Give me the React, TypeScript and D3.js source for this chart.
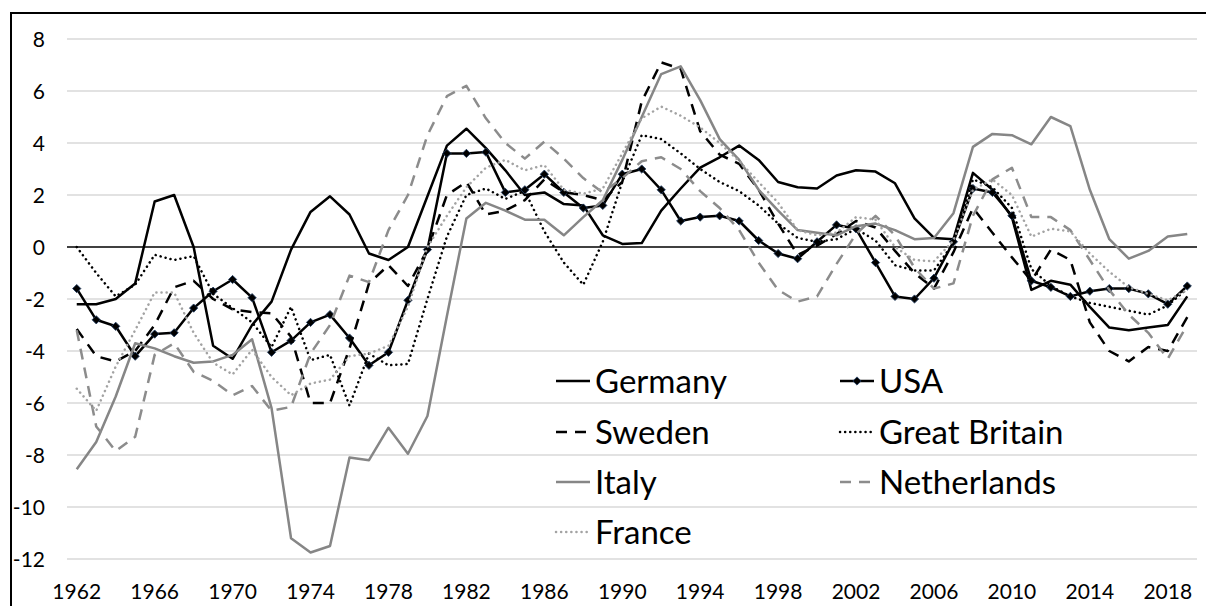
import React, { useEffect, useRef } from 'react'
import * as d3 from 'd3'

const years = [
  1962, 1963, 1964, 1965, 1966, 1967, 1968, 1969, 1970, 1971, 1972, 1973, 1974, 1975, 1976, 1977, 1978, 1979, 1980,
  1981, 1982, 1983, 1984, 1985, 1986, 1987, 1988, 1989, 1990, 1991, 1992, 1993, 1994, 1995, 1996, 1997, 1998, 1999,
  2000, 2001, 2002, 2003, 2004, 2005, 2006, 2007, 2008, 2009, 2010, 2011, 2012, 2013, 2014, 2015, 2016, 2017, 2018,
  2019,
]
const xTickLabels = [1962, 1966, 1970, 1974, 1978, 1982, 1986, 1990, 1994, 1998, 2002, 2006, 2010, 2014, 2018]
const yTicks = [-12, -10, -8, -6, -4, -2, 0, 2, 4, 6, 8]

const germany = [
  -2.2, -2.2, -2.0, -1.4, 1.75, 2.0, 0.0, -3.8, -4.3, -3.0, -2.1, -0.1, 1.35, 1.95, 1.25, -0.25, -0.5, 0.0, 1.95, 3.9,
  4.55, 3.8, 2.95, 2.0, 2.1, 1.65, 1.6, 0.45, 0.12, 0.15, 1.4, 2.25, 3.05, 3.45, 3.9, 3.35, 2.5, 2.3, 2.25, 2.75, 2.95,
  2.9, 2.45, 1.1, 0.35, 0.3, 2.85, 2.2, 1.15, -1.65, -1.3, -1.45, -2.3, -3.1, -3.2, -3.1, -3.0, -1.9,
]
const usa = [
  -1.6, -2.8, -3.05, -4.2, -3.35, -3.3, -2.35, -1.7, -1.25, -1.95, -4.05, -3.6, -2.9, -2.6, -3.5, -4.55, -4.05, -2.05,
  -0.1, 3.6, 3.6, 3.65, 2.1, 2.2, 2.8, 2.1, 1.5, 1.6, 2.8, 3.0, 2.2, 1.0, 1.15, 1.2, 1.0, 0.25, -0.25, -0.45, 0.2, 0.85,
  0.7, -0.6, -1.9, -2.0, -1.2, 0.2, 2.25, 2.1, 1.2, -1.3, -1.55, -1.9, -1.7, -1.6, -1.6, -1.8, -2.2, -1.5,
]
const sweden = [
  -3.15, -4.2, -4.4, -4.0, -3.0, -1.55, -1.3, -2.0, -2.4, -2.5, -2.55, -3.45, -6.0, -6.0, -3.9, -1.4, -0.7, -1.5, -0.1,
  2.0, 2.5, 1.25, 1.4, 1.8, 2.6, 2.1, 2.0, 1.8, 2.5, 5.6, 7.1, 6.85, 4.45, 3.55, 3.2, 2.2, 0.9, -0.3, 0.05, 0.5, 1.0,
  0.75, -0.15, -1.0, -1.6, -0.2, 1.5, 0.55, -0.4, -1.3, -0.1, -0.5, -2.9, -4.0, -4.4, -3.85, -4.0, -2.7,
]
const greatBritain = [
  0.0, -1.0, -1.9, -1.45, -0.3, -0.5, -0.35, -1.8, -2.35, -2.9, -3.85, -2.3, -4.35, -4.15, -6.1, -4.1, -4.55, -4.5,
  -2.0, 0.4, 2.0, 2.25, 1.85, 2.15, 0.6, -0.6, -1.45, 0.2, 2.5, 4.3, 4.15, 3.6, 3.0, 2.5, 2.15, 1.6, 0.9, 0.35, 0.2,
  0.3, 0.7, 0.25, -0.7, -0.9, -0.9, 0.15, 2.6, 2.3, 1.5, -0.85, -1.5, -1.9, -2.15, -2.3, -2.45, -2.6, -2.25, -1.6,
]
const italy = [
  -8.55, -7.5, -5.75, -3.7, -3.9, -4.2, -4.45, -4.4, -4.15, -3.55, -6.2, -11.2, -11.75, -11.5, -8.1, -8.2, -6.95,
  -7.95, -6.5, -2.65, 1.1, 1.7, 1.4, 1.05, 1.05, 0.45, 1.15, 1.8, 3.35, 5.0, 6.65, 6.95, 5.65, 4.15, 3.35, 2.2, 1.4,
  0.65, 0.55, 0.45, 0.8, 0.9, 0.65, 0.3, 0.35, 1.3, 3.85, 4.35, 4.3, 3.95, 5.0, 4.65, 2.2, 0.3, -0.45, -0.15, 0.4, 0.5,
]
const netherlands = [
  -3.2, -6.9, -7.85, -7.3, -4.15, -3.7, -4.8, -5.15, -5.7, -5.35, -6.3, -6.15, -4.1, -3.0, -1.1, -1.35, 0.65, 2.0, 4.3,
  5.8, 6.2, 4.95, 4.0, 3.4, 4.05, 3.4, 2.65, 2.1, 2.65, 3.3, 3.45, 3.0, 2.15, 1.5, 0.65, -0.6, -1.65, -2.1, -1.9, -0.65,
  0.5, 1.2, 0.45, -0.8, -1.6, -1.4, 1.2, 2.6, 3.05, 1.15, 1.15, 0.65, -0.5, -1.65, -2.6, -3.3, -4.3, -3.0,
]
const france = [
  -5.45, -6.3, -4.6, -3.2, -1.75, -1.75, -3.3, -4.45, -4.9, -3.95, -5.0, -5.7, -5.25, -5.1, -4.2, -4.1, -3.8, -2.3, 0.0,
  1.2, 2.3, 3.05, 3.35, 2.95, 3.15, 2.2, 2.05, 2.25, 3.6, 4.95, 5.4, 5.05, 4.6, 4.0, 3.3, 2.5, 1.7, 0.65, 0.45, 0.55,
  1.15, 1.05, 0.0, -0.5, -0.55, 0.25, 2.2, 2.6, 2.0, 0.4, 0.7, 0.6, -0.25, -0.95, -1.55, -1.8, -2.05, -1.65,
]

const seriesNames = ['Germany', 'USA', 'Sweden', 'Great Britain', 'Italy', 'Netherlands', 'France']

export default function App() {
  const svgRef = useRef(null)
  const width = 1206
  const height = 606
  const font = 'Lato, "Open Sans", sans-serif'

  useEffect(() => {
    const series = [
      { name: seriesNames[0], values: germany, color: '#000', dash: null, cap: 'butt', marker: false },
      { name: seriesNames[1], values: usa, color: '#000', dash: null, cap: 'butt', marker: true },
      { name: seriesNames[2], values: sweden, color: '#000', dash: '11 8', cap: 'butt', marker: false },
      { name: seriesNames[3], values: greatBritain, color: '#000', dash: '0.1 5', cap: 'round', marker: false },
      { name: seriesNames[4], values: italy, color: '#868686', dash: null, cap: 'butt', marker: false },
      { name: seriesNames[5], values: netherlands, color: '#8c8c8c', dash: '11 8', cap: 'butt', marker: false },
      { name: seriesNames[6], values: france, color: '#a3a3a3', dash: '0.1 5', cap: 'round', marker: false },
    ]

    const svgEl = d3.select(svgRef.current)
    svgEl.selectAll('*').remove()

    const x = d3.scalePoint().domain(years.map(String)).range([67, 1197]).padding(0.5)
    const y = d3.scaleLinear().domain([-12, 8]).range([559, 39])

    // outer frame (runs off the right and bottom edge)
    svgEl
      .append('rect')
      .attr('x', 11)
      .attr('y', 13)
      .attr('width', 1230)
      .attr('height', 640)
      .attr('fill', 'white')
      .attr('stroke', '#000')
      .attr('stroke-width', 2)

    // gridlines
    svgEl
      .append('g')
      .selectAll('line')
      .data(yTicks.filter((d) => d !== 0))
      .enter()
      .append('line')
      .attr('x1', 67)
      .attr('x2', 1197)
      .attr('y1', (d) => y(d))
      .attr('y2', (d) => y(d))
      .attr('stroke', '#d9d9d9')
      .attr('stroke-width', 1.3)

    // y labels
    svgEl
      .append('g')
      .selectAll('text')
      .data(yTicks)
      .enter()
      .append('text')
      .attr('x', 45)
      .attr('y', (d) => y(d) + 7.5)
      .attr('text-anchor', 'end')
      .style('font-family', font)
      .style('font-size', '21px')
      .attr('fill', '#000')
      .text((d) => d)

    // x labels
    svgEl
      .append('g')
      .selectAll('text')
      .data(xTickLabels)
      .enter()
      .append('text')
      .attr('x', (d) => x(String(d)))
      .attr('y', 599)
      .attr('text-anchor', 'middle')
      .style('font-family', font)
      .style('font-size', '21px')
      .attr('fill', '#000')
      .text((d) => d)

    // zero line
    svgEl
      .append('line')
      .attr('x1', 67)
      .attr('x2', 1197)
      .attr('y1', y(0))
      .attr('y2', y(0))
      .attr('stroke', '#000')
      .attr('stroke-width', 1.6)

    const line = d3
      .line()
      .x((d, i) => x(String(years[i])))
      .y((d) => y(d))

    const diamond = d3.symbol().type(d3.symbolSquare).size(34)

    series.forEach((s) => {
      svgEl
        .append('path')
        .datum(s.values)
        .attr('fill', 'none')
        .attr('stroke', s.color)
        .attr('stroke-width', 2.5)
        .attr('stroke-linejoin', 'round')
        .attr('stroke-linecap', s.cap)
        .attr('stroke-dasharray', s.dash)
        .attr('d', line)

      if (s.marker) {
        svgEl
          .append('g')
          .selectAll('path')
          .data(s.values)
          .enter()
          .append('path')
          .attr('d', diamond)
          .attr('transform', (d, i) => `translate(${x(String(years[i]))},${y(d)}) rotate(45)`)
          .attr('fill', '#000')
          .attr('stroke', '#1f3a5f')
          .attr('stroke-width', 0.8)
      }
    })

    // legend
    const legendCols = [556, 840]
    const legendRows = [381, 432, 482, 532]
    const legend = svgEl.append('g')
    series.forEach((s, i) => {
      const lx = legendCols[i % 2]
      const ly = legendRows[Math.floor(i / 2)]
      legend
        .append('line')
        .attr('x1', lx)
        .attr('x2', lx + 34)
        .attr('y1', ly)
        .attr('y2', ly)
        .attr('stroke', s.color)
        .attr('stroke-width', 2.5)
        .attr('stroke-linecap', s.cap)
        .attr('stroke-dasharray', s.dash)
      if (s.marker) {
        legend
          .append('path')
          .attr('d', diamond)
          .attr('transform', `translate(${lx + 17},${ly}) rotate(45)`)
          .attr('fill', '#000')
          .attr('stroke', '#1f3a5f')
          .attr('stroke-width', 0.8)
      }
      legend
        .append('text')
        .attr('x', lx + 39)
        .attr('y', ly + 11.5)
        .style('font-family', font)
        .style('font-size', '33px')
        .attr('fill', '#000')
        .text(s.name)
    })
  }, [])

  return (
    <svg
      ref={svgRef}
      width={width}
      height={height}
      style={{ position: 'absolute', left: 0, top: 0, background: 'white' }}
    />
  )
}
